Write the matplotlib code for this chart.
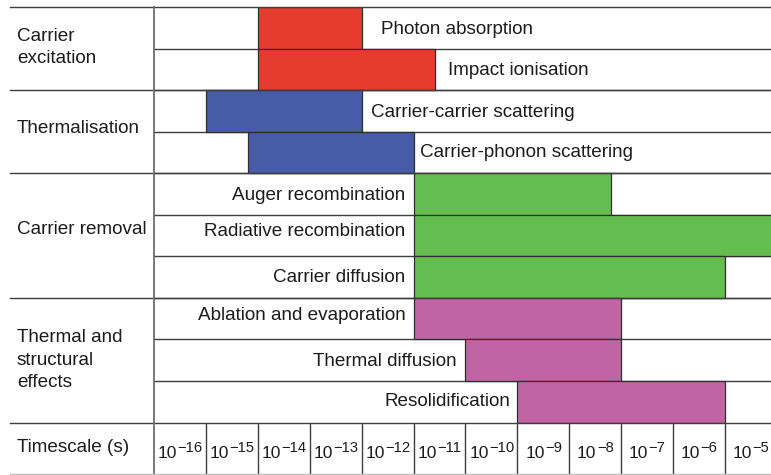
import matplotlib
matplotlib.use('Agg')
import matplotlib.pyplot as plt
from matplotlib.lines import Line2D
from matplotlib.transforms import blended_transform_factory

plt.rcParams['font.family'] = ['Liberation Sans', 'DejaVu Sans']

# ---------------- data ----------------
groups = ['Carrier\nexcitation', 'Thermalisation', 'Carrier removal',
          'Thermal and\nstructural\neffects']
group_sizes = [2, 2, 3, 3]
group_colors = ['#E43C2F', '#475BA8', '#66BD4F', '#C064A4']

processes = ['Photon absorption', 'Impact ionisation',
             'Carrier-carrier scattering', 'Carrier-phonon scattering',
             'Auger recombination', 'Radiative recombination', 'Carrier diffusion',
             'Ablation and evaporation', 'Thermal diffusion', 'Resolidification']
t_start = [1e-14, 1e-14, 1e-15, 6.4e-15, 1e-11, 1e-11, 1e-11, 1e-11, 1e-10, 1e-9]
t_end = [1e-12, 2.6e-11, 1e-12, 1e-11, 6.4e-8, 1e-3, 1e-5, 1e-7, 1e-7, 1e-5]
label_side = ['right', 'right', 'right', 'right',
              'left', 'left', 'left', 'left', 'left', 'left']
exponents = list(range(-16, -4))  # 10^-16 ... 10^-5

# ---------------- style ----------------
label_gap_px = [19, 13, 9, 7, 8, 8, 8, 8, 9, 7]
label_dy_px = [2, 1, 2, 0, 2, -4, 0, -3, 1, 0]
group_dy_px = [-1, -3, -6, 0]
W, H = 771, 475
FS = 13.6
TICK_FS = 12.5
SUP_FS = 10.6
TXT = '#1e1b1c'
LINE = '#3d3d3d'

def fx(px):
    return px / W

def fy(py):
    return 1 - py / H

fig = plt.figure(figsize=(W / 100, H / 100), dpi=100)

x0, ytop, ybar, ybot = 154, 7, 422.5, 474
cell = 51.9
xmax = 10 ** (-16 + (W - x0) / cell)

ax = fig.add_axes([fx(x0), fy(ybar), 1 - fx(x0), (ybar - ytop) / H])
ax.set_xscale('log')
ax.set_xlim(1e-16, xmax)
n = len(processes)
ax.set_ylim(n - 0.5, -0.5)
ax.axis('off')

# bars
colors = []
for c, s in zip(group_colors, group_sizes):
    colors += [c] * s
rows = list(range(n))
widths = [e - s for s, e in zip(t_start, t_end)]
ax.barh(rows, widths, left=t_start, height=1, color=colors,
        edgecolor='#2e2e2e', linewidth=0.9, zorder=3)

# row separators
for i in range(1, n):
    ax.axhline(i - 0.5, color=LINE, lw=1.0, zorder=2)

# group separators, spanning the left column too
btr = blended_transform_factory(fig.transFigure, ax.transData)
bounds = [-0.5]
acc = 0
for s in group_sizes:
    acc += s
    bounds.append(acc - 0.5)
for b in bounds:
    ax.add_line(Line2D([fx(10), 1], [b, b], transform=btr, color=LINE,
                       lw=1.0, clip_on=False, zorder=4))

# group labels
start = 0
for k, (g, s) in enumerate(zip(groups, group_sizes)):
    yc = start + s / 2 - 0.5
    ax.annotate(g, xy=(fx(17), yc), xycoords=btr,
                xytext=(0, -group_dy_px[k] * 0.72), textcoords='offset points',
                ha='left', va='center', fontsize=FS, color=TXT,
                linespacing=1.4)
    start += s

# process labels
for i, name in enumerate(processes):
    dy = -label_dy_px[i] * 0.72
    gap = label_gap_px[i] * 0.72
    if label_side[i] == 'right':
        ax.annotate(name, xy=(t_end[i], i), xytext=(gap, dy),
                    textcoords='offset points', ha='left', va='center',
                    fontsize=FS, color=TXT, zorder=5)
    else:
        ax.annotate(name, xy=(t_start[i], i), xytext=(-gap, dy),
                    textcoords='offset points', ha='right', va='center',
                    fontsize=FS, color=TXT, zorder=5)

# bottom timescale row
bx = fig.add_axes([fx(x0), fy(ybot), 1 - fx(x0), (ybot - ybar) / H])
bx.set_xscale('log')
bx.set_xlim(1e-16, xmax)
bx.set_ylim(0, 1)
bx.axis('off')
for e in exponents[1:] + [exponents[-1] + 1]:
    bx.axvline(10.0 ** e, color=LINE, lw=1.0)

ttr = blended_transform_factory(bx.transData, bx.transAxes)
base_y = (ybot - 458) / (ybot - ybar)
w10 = 1.112 * TICK_FS
for e in exponents:
    sup = '\u2212%d' % abs(e)
    wsup = (0.584 + 0.556 * len(str(abs(e)))) * SUP_FS
    total = w10 + wsup
    xc = 10.0 ** (e + 0.5)
    split = -total / 2 + w10
    bx.annotate('10', xy=(xc, base_y), xycoords=ttr, xytext=(split, 0),
                textcoords='offset points', ha='right', va='baseline',
                fontsize=TICK_FS, color=TXT)
    bx.annotate(sup, xy=(xc, base_y), xycoords=ttr, xytext=(split + 0.3, 4.3),
                textcoords='offset points', ha='left', va='baseline',
                fontsize=SUP_FS, color=TXT)

fig.text(fx(17), fy(448), 'Timescale (s)', ha='left', va='center',
         fontsize=FS, color=TXT)

# main vertical divider and bottom border
fig.add_artist(Line2D([fx(x0), fx(x0)], [fy(ytop), fy(ybot + 1)],
                      color='#6e6e6e', lw=1.3))
fig.add_artist(Line2D([fx(10), 1], [fy(ybot), fy(ybot)],
                      color='#bdbdbd', lw=1.0))

fig.savefig('out.png', dpi=100, facecolor='white')
